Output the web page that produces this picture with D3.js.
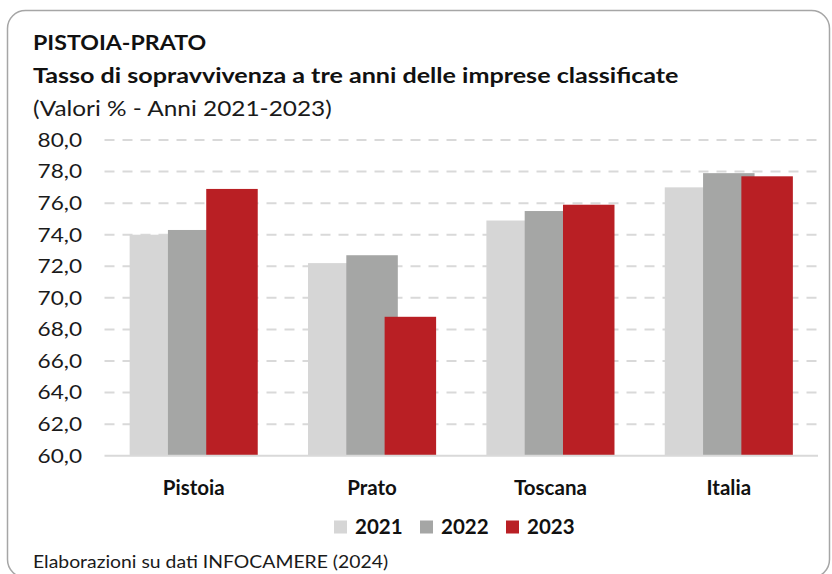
<!DOCTYPE html>
<html>
<head>
	<meta charset="utf-8">
	<title>Pistoia-Prato</title>
	<script src="https://d3js.org/d3.v7.min.js"></script>
	<style>
		body{ margin:0; background:#fff; }
		text{ font-family: Lato, "Open Sans", sans-serif; fill:#111; }
		.title{ font-weight:bold; font-size:20.5px; }
		.sub{ font-size:20.5px; fill:#1a1a1a; }
		.tick{ font-size:19px; fill:#1a1a1a; }
		.cat{ font-weight:bold; font-size:20.5px; }
		.leg{ font-weight:bold; font-size:20.5px; }
		.foot{ font-size:17px; fill:#1a1a1a; }
	</style>
</head>
<body>
	<svg width="832" height="574"></svg>
<script>
	var categories = ['Pistoia', 'Prato', 'Toscana', 'Italia'];
	var years = ['2021', '2022', '2023'];
	var v2021 = [74.0, 72.2, 74.9, 77.0];
	var v2022 = [74.3, 72.7, 75.5, 77.9];
	var v2023 = [76.9, 68.8, 75.9, 77.7];
	var yTicks = [60, 62, 64, 66, 68, 70, 72, 74, 76, 78, 80];
	var colors = ['#d6d6d6', '#a5a6a5', '#b91f24'];

	var series = [v2021, v2022, v2023];
	var svg = d3.select('svg');

	// testo allargato in orizzontale come nell'originale
	function label(cls, px, py, sx, txt, anchor){
		return svg.append('text')
			.attr('class', cls)
			.attr('transform', 'translate(' + px + ',' + py + ') scale(' + sx + ',1)')
			.attr('text-anchor', anchor || 'start')
			.text(txt);
	}

	// cornice
	svg.append('rect')
		.attr('x', 7.5).attr('y', 10.5)
		.attr('width', 822).attr('height', 567)
		.attr('rx', 18)
		.attr('fill', '#fff')
		.attr('stroke', '#a6a6a6')
		.attr('stroke-width', 1.5);

	label('title', 33, 50, 1.13, 'PISTOIA-PRATO');
	label('title', 33, 83, 1.225, 'Tasso di sopravvivenza a tre anni delle imprese classificate');
	label('sub', 33, 116, 1.19, '(Valori % - Anni 2021-2023)');

	var x = d3.scaleBand().domain(categories).range([104.5, 818]);
	var off = d3.scalePoint().domain(years).range([-38.3, 38.3]);
	var barW = 51.5;
	var y = d3.scaleLinear().domain([60, 80]).range([455.7, 140]);

	// griglia
	svg.append('g').selectAll('line')
		.data(yTicks.filter(function(d){ return d > 60; }))
		.enter().append('line')
		.attr('x1', 104.5).attr('x2', 818)
		.attr('y1', function(d){ return y(d); })
		.attr('y2', function(d){ return y(d); })
		.attr('stroke', '#d9d9d9')
		.attr('stroke-width', 2)
		.attr('stroke-dasharray', '10,8');

	yTicks.forEach(function(d){
		label('tick', 82, y(d) + 6.8, 1.19, d3.format('.1f')(d).replace('.', ','), 'end');
	});

	// barre
	years.forEach(function(yr, s){
		svg.append('g').selectAll('rect')
			.data(series[s])
			.enter().append('rect')
			.attr('x', function(d, i){ return x(categories[i]) + x.bandwidth() / 2 + off(yr) - barW / 2; })
			.attr('y', function(d){ return y(d); })
			.attr('width', barW)
			.attr('height', function(d){ return y(60) - y(d); })
			.attr('fill', colors[s]);
	});

	svg.append('line')
		.attr('x1', 104.5).attr('x2', 818)
		.attr('y1', y(60)).attr('y2', y(60))
		.attr('stroke', '#d9d9d9')
		.attr('stroke-width', 2);

	svg.append('g').selectAll('text')
		.data(categories)
		.enter().append('text')
		.attr('class', 'cat')
		.attr('x', function(d){ return x(d) + x.bandwidth() / 2; })
		.attr('y', 495)
		.attr('text-anchor', 'middle')
		.text(function(d){ return d; });

	// legenda
	var legX = [334, 420, 506];
	var leg = svg.append('g').selectAll('g')
		.data(years)
		.enter().append('g')
		.attr('transform', function(d, i){ return 'translate(' + legX[i] + ',0)'; });
	leg.append('rect')
		.attr('y', 520.5).attr('width', 13).attr('height', 13)
		.attr('fill', function(d, i){ return colors[i]; });
	leg.append('text')
		.attr('class', 'leg')
		.attr('x', 21).attr('y', 533.5)
		.text(function(d){ return d; });

	label('foot', 33, 568, 1.14, 'Elaborazioni su dati INFOCAMERE (2024)');
</script>
</body>
</html>
